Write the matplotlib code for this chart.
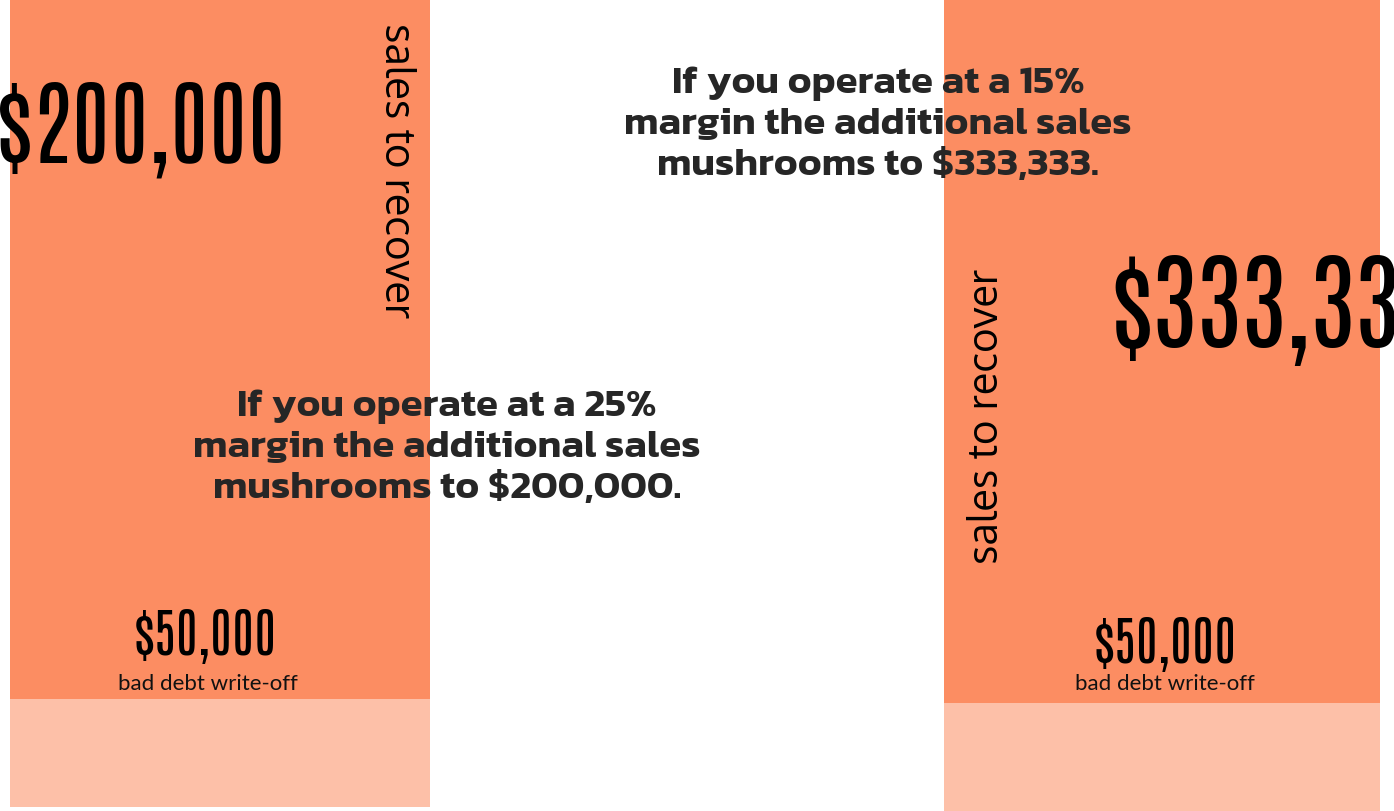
import matplotlib
matplotlib.use("Agg")
import matplotlib.pyplot as plt

# data
margins = [25, 15]
bad_debt = [50000, 50000]
sales_to_recover = [200000, 333333]

dark = "#fc8d62"
light = "#fdc0a8"
W, H = 1394, 811

fig = plt.figure(figsize=(W / 100, H / 100), dpi=100)


def px_axes(x0, y0, x1, y1):
    # pixel box (top-left origin) -> figure axes
    ax = fig.add_axes([x0 / W, 1 - y1 / H, (x1 - x0) / W, (y1 - y0) / H])
    ax.set_axis_off()
    ax.margins(0)
    return ax


# column boxes: x0, x1, split between segments, bottom
cols = [(10, 430, 699, 807), (944, 1380, 703, 811)]

for i, (x0, x1, ysplit, ybot) in enumerate(cols):
    top = px_axes(x0, 0, x1, ysplit)
    top.bar([0], [sales_to_recover[i]], width=1, color=dark)
    top.set_xlim(-0.5, 0.5)
    top.set_ylim(0, sales_to_recover[i])
    bot = px_axes(x0, ysplit, x1, ybot)
    bot.bar([0], [bad_debt[i]], width=1, color=light)
    bot.set_xlim(-0.5, 0.5)
    bot.set_ylim(0, bad_debt[i])

numfont = ["Antonio", "Bebas Neue", "DejaVu Sans"]
labfont = ["Oxygen", "Lato", "DejaVu Sans"]
smallfont = ["Lato", "DejaVu Sans"]
notefont = ["Kanit", "Lato", "DejaVu Sans"]


def ptext(x, y, s, **kw):
    fig.text(x / W, 1 - y / H, s, **kw)


# big numbers
ptext(141, 130, f"${sales_to_recover[0]:,.0f}", fontsize=67, family=numfont,
      fontweight="bold", ha="center", va="center", color="black")
ptext(1110, 310, f"${sales_to_recover[1]:,.0f}", fontsize=77, family=numfont,
      fontweight="bold", ha="left", va="center", color="black")

# vertical labels
ptext(395, 171, "sales to recover", fontsize=30, family=labfont,
      rotation=270, ha="center", va="center", color="black")
ptext(988, 416, "sales to recover", fontsize=30, family=labfont,
      rotation=90, ha="center", va="center", color="black")

# bad debt labels
for cx, cy in [(205, 637), (1165, 645)]:
    ptext(cx, cy, f"${bad_debt[0]:,.0f}", fontsize=38, family=numfont,
          fontweight="bold", ha="center", va="center", color="black")
ptext(208, 684, "bad debt write-off", fontsize=16, family=smallfont,
      ha="center", va="center", color="#111111")
ptext(1165, 684, "bad debt write-off", fontsize=16, family=smallfont,
      ha="center", va="center", color="#111111")

# annotations
notes = [(447, 448, 0), (878, 125, 1)]
for cx, cy, i in notes:
    s = (f"If you operate at a {margins[i]}%\nmargin the additional sales\n"
         f"mushrooms to ${sales_to_recover[i]:,.0f}.")
    ptext(cx, cy, s, fontsize=29, family=notefont, fontweight="semibold",
          ha="center", va="center", multialignment="center",
          linespacing=1.27, color="#262626")

fig.savefig("out.png", dpi=100)
